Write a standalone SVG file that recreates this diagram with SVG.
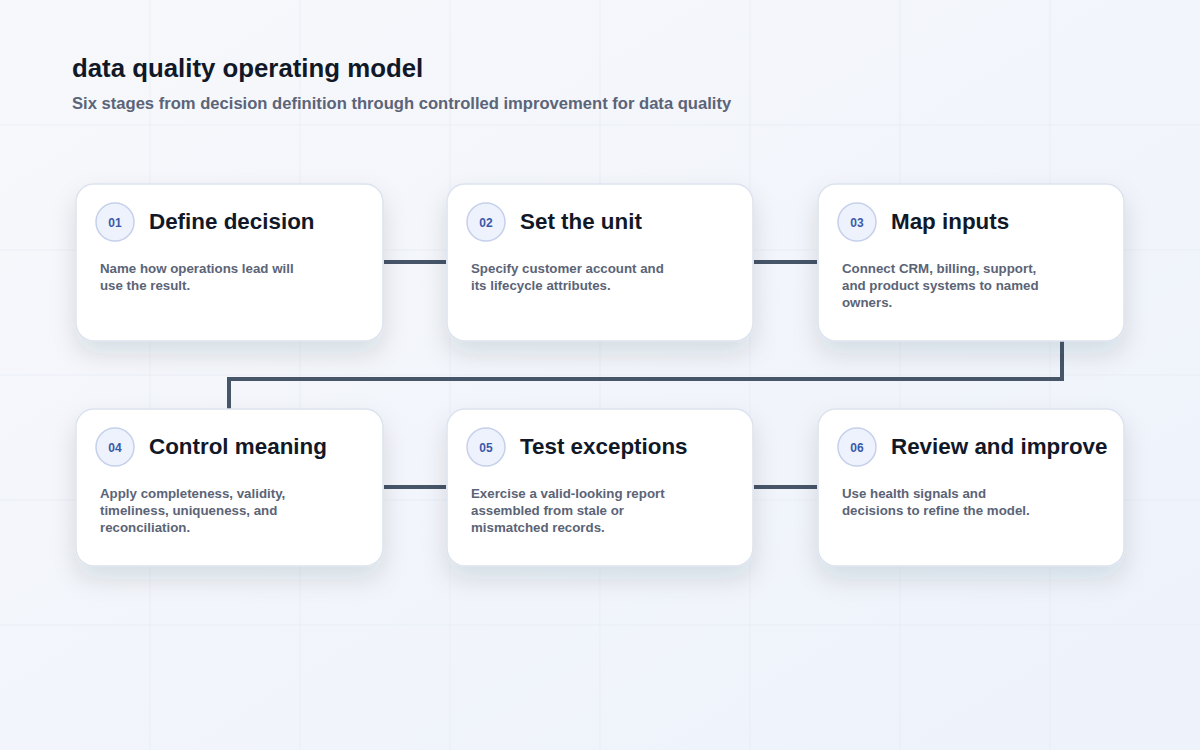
<svg xmlns="http://www.w3.org/2000/svg" width="1200" height="750" viewBox="0 0 1200 750">
<defs>
<linearGradient id="bg" x1="0" y1="0" x2="1" y2="1">
<stop offset="0" stop-color="#f7f8fb"/>
<stop offset="1" stop-color="#edf2fb"/>
</linearGradient>
<filter id="sh" x="-20%" y="-20%" width="140%" height="170%">
<feDropShadow dx="0" dy="12" stdDeviation="12" flood-color="#1e293b" flood-opacity="0.12"/>
</filter>
<style>
.grid{stroke:#e3e8f1;stroke-width:1;opacity:0.55}
.card{fill:#ffffff;stroke:#dde3ee;stroke-width:1.5;filter:url(#sh)}
.badge{fill:#eef2fd;stroke:#c5d0ea;stroke-width:1.5}
.num{font-family:"Liberation Sans",Arial,sans-serif;font-size:12px;font-weight:700;fill:#3b59a8;text-anchor:middle}
.ttl{font-family:"Liberation Sans",Arial,sans-serif;font-size:22.4px;font-weight:700;fill:#111827}
.desc{font-family:"Liberation Sans",Arial,sans-serif;font-size:13.3px;font-weight:700;fill:#5b6476}
.conn{fill:none;stroke:#475569;stroke-width:4}
</style>
</defs>
<rect width="1200" height="750" fill="url(#bg)"/>
<g id="grid">
<line class="grid" x1="150" y1="0" x2="150" y2="750"/>
<line class="grid" x1="300" y1="0" x2="300" y2="750"/>
<line class="grid" x1="450" y1="0" x2="450" y2="750"/>
<line class="grid" x1="600" y1="0" x2="600" y2="750"/>
<line class="grid" x1="750" y1="0" x2="750" y2="750"/>
<line class="grid" x1="900" y1="0" x2="900" y2="750"/>
<line class="grid" x1="1050" y1="0" x2="1050" y2="750"/>
<line class="grid" x1="0" y1="125" x2="1200" y2="125"/>
<line class="grid" x1="0" y1="250" x2="1200" y2="250"/>
<line class="grid" x1="0" y1="375" x2="1200" y2="375"/>
<line class="grid" x1="0" y1="500" x2="1200" y2="500"/>
<line class="grid" x1="0" y1="625" x2="1200" y2="625"/>
</g>
<g id="header">
<text x="72" y="77" font-family="Liberation Sans,Arial,sans-serif" font-size="25.8" font-weight="700" fill="#111827">data quality operating model</text>
<text x="72" y="109" font-family="Liberation Sans,Arial,sans-serif" font-size="16.6" font-weight="700" fill="#5b6478">Six stages from decision definition through controlled improvement for data quality</text>
</g>
<g id="connectors">
<line class="conn" x1="384" y1="262" x2="446" y2="262"/>
<line class="conn" x1="754" y1="262" x2="817" y2="262"/>
<path class="conn" d="M1062 341 V379 H229 V409"/>
<line class="conn" x1="384" y1="487" x2="446" y2="487"/>
<line class="conn" x1="754" y1="487" x2="817" y2="487"/>
</g>
<g id="node-01">
<rect class="card" x="76" y="184" width="307" height="157" rx="18"/>
<circle class="badge" cx="115" cy="222" r="19"/>
<text class="num" x="115" y="226.5">01</text>
<text class="ttl" x="149" y="229">Define decision</text>
<text class="desc" x="100" y="273">Name how operations lead will</text>
<text class="desc" x="100" y="290">use the result.</text>
</g>
<g id="node-02">
<rect class="card" x="447" y="184" width="306" height="157" rx="18"/>
<circle class="badge" cx="486" cy="222" r="19"/>
<text class="num" x="486" y="226.5">02</text>
<text class="ttl" x="520" y="229">Set the unit</text>
<text class="desc" x="471" y="273">Specify customer account and</text>
<text class="desc" x="471" y="290">its lifecycle attributes.</text>
</g>
<g id="node-03">
<rect class="card" x="818" y="184" width="306" height="157" rx="18"/>
<circle class="badge" cx="857" cy="222" r="19"/>
<text class="num" x="857" y="226.5">03</text>
<text class="ttl" x="891" y="229">Map inputs</text>
<text class="desc" x="842" y="273">Connect CRM, billing, support,</text>
<text class="desc" x="842" y="290">and product systems to named</text>
<text class="desc" x="842" y="307">owners.</text>
</g>
<g id="node-04">
<rect class="card" x="76" y="409" width="307" height="157" rx="18"/>
<circle class="badge" cx="115" cy="447" r="19"/>
<text class="num" x="115" y="451.5">04</text>
<text class="ttl" x="149" y="454">Control meaning</text>
<text class="desc" x="100" y="498">Apply completeness, validity,</text>
<text class="desc" x="100" y="515">timeliness, uniqueness, and</text>
<text class="desc" x="100" y="532">reconciliation.</text>
</g>
<g id="node-05">
<rect class="card" x="447" y="409" width="306" height="157" rx="18"/>
<circle class="badge" cx="486" cy="447" r="19"/>
<text class="num" x="486" y="451.5">05</text>
<text class="ttl" x="520" y="454">Test exceptions</text>
<text class="desc" x="471" y="498">Exercise a valid-looking report</text>
<text class="desc" x="471" y="515">assembled from stale or</text>
<text class="desc" x="471" y="532">mismatched records.</text>
</g>
<g id="node-06">
<rect class="card" x="818" y="409" width="306" height="157" rx="18"/>
<circle class="badge" cx="857" cy="447" r="19"/>
<text class="num" x="857" y="451.5">06</text>
<text class="ttl" x="891" y="454">Review and improve</text>
<text class="desc" x="842" y="498">Use health signals and</text>
<text class="desc" x="842" y="515">decisions to refine the model.</text>
</g>
</svg>
